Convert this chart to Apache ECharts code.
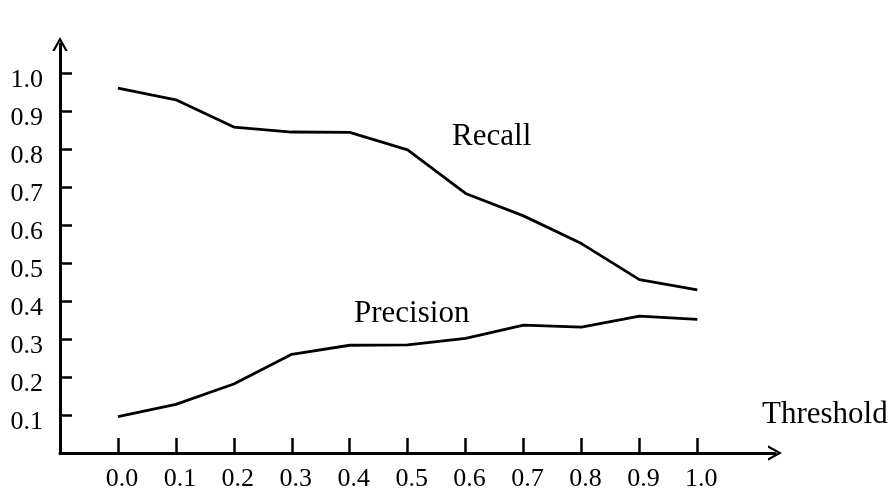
<!DOCTYPE html>
<html>
<head>
<meta charset="utf-8">
<script src="https://cdn.jsdelivr.net/npm/echarts@6/dist/echarts.min.js"></script>
<style>
  html, body { margin: 0; padding: 0; background: #fff; }
  #chart { width: 895px; height: 492px; }
</style>
</head>
<body>
<div id="chart"></div>
<script>
// thresholds and the two curves
var thresholds = [0.0, 0.1, 0.2, 0.3, 0.4, 0.5, 0.6, 0.7, 0.8, 0.9, 1.0];
var recall     = [0.962, 0.931, 0.859, 0.846, 0.845, 0.799, 0.684, 0.625, 0.552, 0.457, 0.430];
var precision  = [0.096, 0.128, 0.182, 0.260, 0.284, 0.285, 0.302, 0.337, 0.332, 0.361, 0.352];
var xTicks = [0.0, 0.1, 0.2, 0.3, 0.4, 0.5, 0.6, 0.7, 0.8, 0.9, 1.0];
var yTicks = [0.1, 0.2, 0.3, 0.4, 0.5, 0.6, 0.7, 0.8, 0.9, 1.0];

var font = '"Liberation Serif", "DejaVu Serif", serif';
// open chevron arrow head, pointing up
var arrowHead = 'path://M5,0 L10,9 L8.4,9 L5,2.8 L1.6,9 L0,9 Z';

function pairs(ys) {
  return thresholds.map(function (t, i) { return [t, ys[i]]; });
}

var chart = echarts.init(document.getElementById('chart'));

var option = {
  backgroundColor: '#ffffff',
  animation: false,
  grid: { left: 60, right: 120, top: 44, bottom: 36 },
  xAxis: {
    type: 'value',
    min: -0.1,
    max: 1.134,
    splitLine: { show: false },
    axisLine: {
      onZero: false,
      lineStyle: { color: '#000', width: 3 },
      symbol: ['none', arrowHead],
      symbolSize: [16, 14]
    },
    axisTick: { inside: true, length: 15, customValues: xTicks, lineStyle: { color: '#000', width: 2.5 } },
    axisLabel: {
      customValues: xTicks,
      formatter: function (v) { return '{a|' + v.toFixed(1) + '}'; },
      rich: { a: { color: '#000', fontFamily: font, fontSize: 26, padding: [0, 0, 0, 8] } },
      margin: 13
    }
  },
  yAxis: {
    type: 'value',
    min: 0,
    max: 1.078,
    splitLine: { show: false },
    axisLine: {
      onZero: false,
      lineStyle: { color: '#000', width: 3 },
      symbol: ['none', arrowHead],
      symbolSize: [16, 14]
    },
    axisTick: { inside: true, length: 12, customValues: yTicks, lineStyle: { color: '#000', width: 2.5 } },
    axisLabel: {
      customValues: yTicks,
      formatter: function (v) { return '{a|' + v.toFixed(1) + '}'; },
      rich: { a: { color: '#000', fontFamily: font, fontSize: 26, padding: [14, 0, 0, 0] } },
      margin: 17
    }
  },
  graphic: [
    {
      type: 'text',
      left: 762,
      top: 399,
      style: { text: 'Threshold', fill: '#000', font: '31px ' + font }
    }
  ],
  series: [
    {
      name: 'Recall',
      type: 'line',
      data: pairs(recall),
      symbol: 'none',
      lineStyle: { color: '#000', width: 2.8 },
      markPoint: {
        symbolSize: 0,
        label: { show: true, formatter: 'Recall', color: '#000', fontFamily: font, fontSize: 31 },
        data: [{ coord: [0.645, 0.833] }]
      }
    },
    {
      name: 'Precision',
      type: 'line',
      data: pairs(precision),
      symbol: 'none',
      lineStyle: { color: '#000', width: 2.8 },
      markPoint: {
        symbolSize: 0,
        label: { show: true, formatter: 'Precision', color: '#000', fontFamily: font, fontSize: 31 },
        data: [{ coord: [0.507, 0.367] }]
      }
    }
  ]
};

chart.setOption(option);
</script>
</body>
</html>
